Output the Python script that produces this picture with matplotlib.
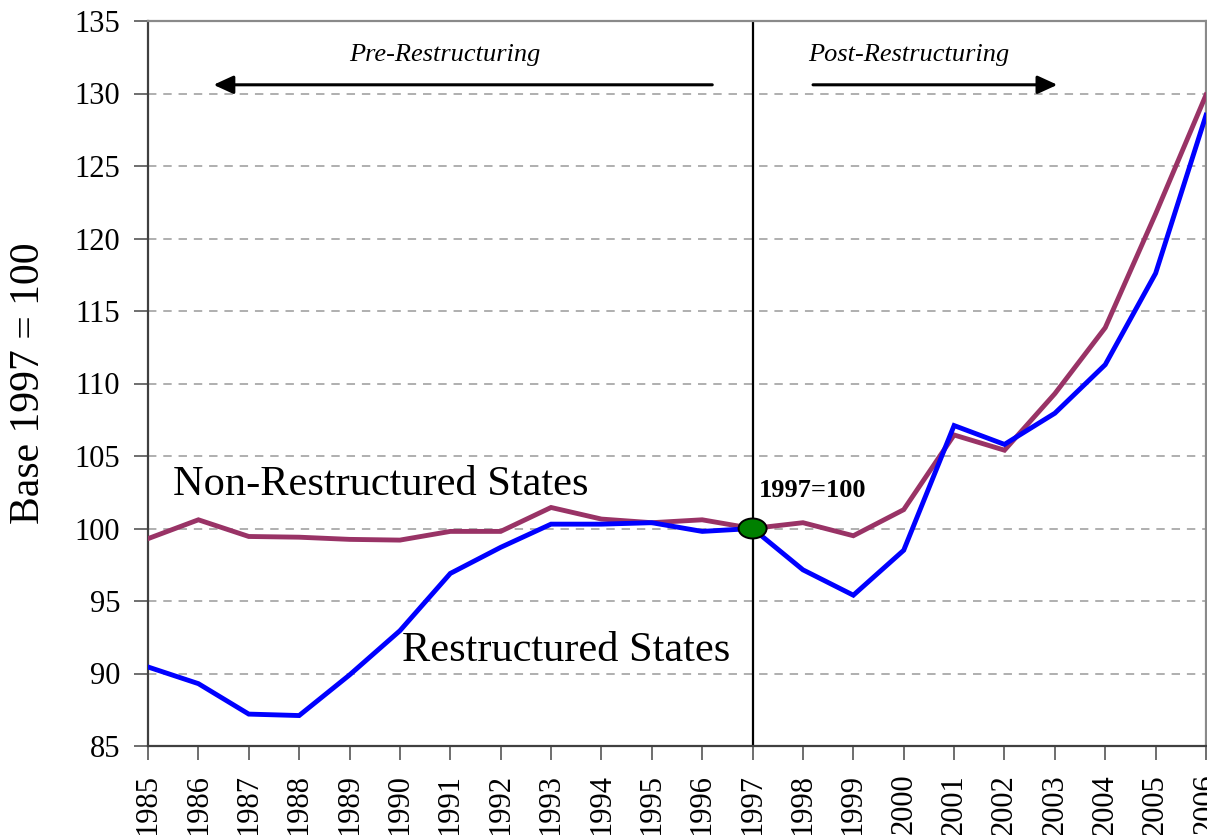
import matplotlib
matplotlib.use("Agg")
import matplotlib.pyplot as plt
from matplotlib.patches import Ellipse

years = list(range(1985, 2007))
non_restructured = [99.3, 100.6, 99.45, 99.4, 99.25, 99.2, 99.8, 99.8, 101.45, 100.65,
                    100.4, 100.6, 100.0, 100.4, 99.5, 101.3, 106.45, 105.4, 109.3,
                    113.85, 121.7, 129.9]
restructured = [90.45, 89.3, 87.2, 87.1, 89.9, 92.95, 96.9, 98.7, 100.3, 100.3,
                100.4, 99.8, 100.0, 97.15, 95.4, 98.5, 107.1, 105.8, 107.95,
                111.3, 117.6, 128.5]
y_ticks = list(range(85, 136, 5))

W, H = 1207, 835
fig = plt.figure(figsize=(W / 100, H / 100), dpi=100)
ax = fig.add_axes([148 / W, 89 / H, 1058 / W, 725 / H])

serif = ["Liberation Serif", "DejaVu Serif"]

for y in y_ticks[1:-1]:
    ax.axhline(y, color="#9a9a9a", lw=1.1, ls=(0, (5.5, 4.5)), zorder=1)

ax.axvline(1997, color="black", lw=1.6, zorder=2)

ax.plot(years, non_restructured, color="#993366", lw=3.5, zorder=3,
        solid_joinstyle="miter")
ax.plot(years, restructured, color="#0000FF", lw=3.5, zorder=3,
        solid_joinstyle="miter")

ax.add_patch(Ellipse((1997, 100), width=28 / 50.4, height=20 / 14.5,
                     facecolor="#008000", edgecolor="black", lw=1.4, zorder=5,
                     clip_on=False))

ax.set_xlim(1985, 2006)
ax.set_ylim(85, 135)
ax.set_xticks(years)
ax.set_xticklabels([str(y) for y in years], rotation=90, family=serif, fontsize=22)
ax.set_yticks(y_ticks)
ax.set_yticklabels([str(y) for y in y_ticks], family=serif, fontsize=22)
ax.tick_params(axis="both", direction="out", length=10, width=1.2, color="#555555")
ax.tick_params(axis="y", pad=10)
ax.tick_params(axis="x", pad=10)

ax.spines["left"].set_color("#404040")
ax.spines["left"].set_linewidth(1.6)
ax.spines["bottom"].set_color("#404040")
ax.spines["bottom"].set_linewidth(1.6)
ax.spines["top"].set_color("#8a8a8a")
ax.spines["top"].set_linewidth(1.6)
ax.spines["right"].set_color("#8a8a8a")
ax.spines["right"].set_linewidth(1.6)

# annotations
ax.text(1990.9, 132.65, "Pre-Restructuring", family=serif, style="italic",
        fontsize=19, ha="center", va="center")
ax.text(2000.1, 132.65, "Post-Restructuring", family=serif, style="italic",
        fontsize=19, ha="center", va="center")
ax.annotate("", xy=(1986.3, 130.6), xytext=(1996.2, 130.6),
            arrowprops=dict(arrowstyle="-|>,head_length=1.2,head_width=0.55",
                            color="black", lw=2.2, shrinkA=0, shrinkB=0))
ax.annotate("", xy=(2003.05, 130.6), xytext=(1998.2, 130.6),
            arrowprops=dict(arrowstyle="-|>,head_length=1.2,head_width=0.55",
                            color="black", lw=2.2, shrinkA=0, shrinkB=0))

ax.text(1985.5, 103.0, "Non-Restructured States", family=serif, fontsize=30.5,
        ha="left", va="center")
ax.text(1990.05, 91.6, "Restructured States", family=serif, fontsize=30.5,
        ha="left", va="center")
ax.text(1997.13, 102.6, "1997=100", family=serif, fontsize=19, weight="bold",
        ha="left", va="center")

fig.text(29 / W, 1 - 383 / H, "Base 1997 = 100", family=serif, fontsize=30,
         rotation=90, ha="center", va="center")

fig.savefig("out.png", dpi=100)
